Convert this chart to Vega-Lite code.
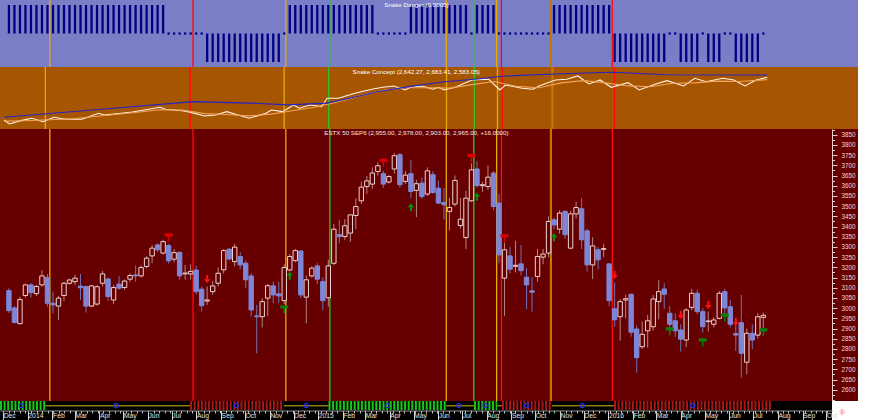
{
  "$schema": "https://vega.github.io/schema/vega-lite/v6.json",
  "padding": 0,
  "spacing": 0,
  "bounds": "flush",
  "background": "#ffffff",
  "config": {
    "view": {"stroke": null},
    "font": "Liberation Sans",
    "axis": {"labelFont": "Liberation Sans", "grid": false},
    "concat": {"spacing": 0}
  },
  "datasets": {
    "candles": [
      {"d":"2013-12-02","o":3086,"h":3100,"l":2976,"c":2988,"s":1},
      {"d":"2013-12-09","o":3001,"h":3010,"l":2925,"c":2930,"s":1},
      {"d":"2013-12-16","o":2924,"h":3055,"l":2920,"c":3042,"s":1},
      {"d":"2013-12-23","o":3062,"h":3120,"l":3052,"c":3114,"s":1},
      {"d":"2013-12-30","o":3114,"h":3122,"l":3052,"c":3076,"s":1},
      {"d":"2014-01-06","o":3071,"h":3115,"l":3060,"c":3106,"s":1},
      {"d":"2014-01-13","o":3114,"h":3186,"l":3105,"c":3158,"s":1},
      {"d":"2014-01-20","o":3150,"h":3167,"l":3008,"c":3024,"s":1},
      {"d":"2014-01-27","o":3024,"h":3081,"l":2975,"c":3016,"s":1},
      {"d":"2014-02-03","o":3010,"h":3060,"l":2942,"c":3049,"s":1},
      {"d":"2014-02-10","o":3062,"h":3130,"l":3035,"c":3122,"s":1},
      {"d":"2014-02-17","o":3122,"h":3145,"l":3115,"c":3138,"s":1},
      {"d":"2014-02-24","o":3130,"h":3163,"l":3114,"c":3147,"s":1},
      {"d":"2014-03-03","o":3108,"h":3167,"l":3041,"c":3100,"s":1},
      {"d":"2014-03-10","o":3106,"h":3110,"l":2978,"c":3010,"s":1},
      {"d":"2014-03-17","o":3010,"h":3115,"l":3005,"c":3109,"s":1},
      {"d":"2014-03-24","o":3020,"h":3112,"l":3012,"c":3105,"s":1},
      {"d":"2014-03-31","o":3122,"h":3183,"l":3106,"c":3168,"s":1},
      {"d":"2014-04-07","o":3143,"h":3150,"l":3035,"c":3057,"s":1},
      {"d":"2014-04-14","o":3040,"h":3114,"l":3019,"c":3101,"s":1},
      {"d":"2014-04-21","o":3118,"h":3158,"l":3090,"c":3098,"s":1},
      {"d":"2014-04-28","o":3101,"h":3140,"l":3090,"c":3133,"s":1},
      {"d":"2014-05-05","o":3142,"h":3170,"l":3128,"c":3160,"s":1},
      {"d":"2014-05-12","o":3163,"h":3209,"l":3130,"c":3158,"s":1},
      {"d":"2014-05-19","o":3158,"h":3210,"l":3150,"c":3199,"s":1},
      {"d":"2014-05-26","o":3204,"h":3255,"l":3195,"c":3245,"s":1},
      {"d":"2014-06-02","o":3256,"h":3310,"l":3220,"c":3294,"s":1},
      {"d":"2014-06-09","o":3310,"h":3318,"l":3275,"c":3286,"s":1},
      {"d":"2014-06-16","o":3270,"h":3335,"l":3262,"c":3326,"s":1},
      {"d":"2014-06-23","o":3307,"h":3315,"l":3219,"c":3232,"s":0},
      {"d":"2014-06-30","o":3240,"h":3290,"l":3225,"c":3272,"s":0},
      {"d":"2014-07-07","o":3274,"h":3275,"l":3140,"c":3158,"s":0},
      {"d":"2014-07-14","o":3168,"h":3212,"l":3140,"c":3172,"s":0},
      {"d":"2014-07-21","o":3168,"h":3215,"l":3140,"c":3180,"s":0},
      {"d":"2014-07-28","o":3187,"h":3209,"l":3068,"c":3081,"s":0},
      {"d":"2014-08-04","o":3093,"h":3106,"l":2983,"c":3012,"s":0},
      {"d":"2014-08-11","o":3035,"h":3106,"l":3016,"c":3040,"s":-1},
      {"d":"2014-08-18","o":3081,"h":3133,"l":3065,"c":3109,"s":-1},
      {"d":"2014-08-25","o":3122,"h":3200,"l":3106,"c":3171,"s":-1},
      {"d":"2014-09-01","o":3188,"h":3290,"l":3170,"c":3282,"s":-1},
      {"d":"2014-09-08","o":3289,"h":3295,"l":3235,"c":3241,"s":-1},
      {"d":"2014-09-15","o":3228,"h":3315,"l":3205,"c":3299,"s":-1},
      {"d":"2014-09-22","o":3253,"h":3275,"l":3190,"c":3212,"s":-1},
      {"d":"2014-09-29","o":3220,"h":3233,"l":3098,"c":3139,"s":-1},
      {"d":"2014-10-06","o":3158,"h":3170,"l":2959,"c":2991,"s":-1},
      {"d":"2014-10-13","o":2962,"h":3016,"l":2779,"c":2958,"s":-1},
      {"d":"2014-10-20","o":2958,"h":3049,"l":2905,"c":3032,"s":-1},
      {"d":"2014-10-27","o":3049,"h":3119,"l":2962,"c":3110,"s":-1},
      {"d":"2014-11-03","o":3109,"h":3130,"l":3024,"c":3065,"s":-1},
      {"d":"2014-11-10","o":3070,"h":3130,"l":3024,"c":3060,"s":-1},
      {"d":"2014-11-17","o":3037,"h":3215,"l":3020,"c":3199,"s":0},
      {"d":"2014-11-24","o":3187,"h":3265,"l":3180,"c":3253,"s":1},
      {"d":"2014-12-01","o":3233,"h":3290,"l":3225,"c":3282,"s":1},
      {"d":"2014-12-08","o":3280,"h":3285,"l":3049,"c":3065,"s":1},
      {"d":"2014-12-15","o":3054,"h":3160,"l":2926,"c":3139,"s":1},
      {"d":"2014-12-22","o":3158,"h":3205,"l":3150,"c":3196,"s":1},
      {"d":"2014-12-29","o":3207,"h":3220,"l":3118,"c":3142,"s":1},
      {"d":"2015-01-05","o":3130,"h":3152,"l":2991,"c":3037,"s":1},
      {"d":"2015-01-12","o":3051,"h":3237,"l":3007,"c":3207,"s":1},
      {"d":"2015-01-19","o":3220,"h":3413,"l":3210,"c":3387,"s":1},
      {"d":"2015-01-26","o":3360,"h":3433,"l":3318,"c":3350,"s":1},
      {"d":"2015-02-02","o":3351,"h":3436,"l":3335,"c":3404,"s":1},
      {"d":"2015-02-09","o":3368,"h":3460,"l":3325,"c":3457,"s":1},
      {"d":"2015-02-16","o":3454,"h":3539,"l":3387,"c":3498,"s":1},
      {"d":"2015-02-23","o":3526,"h":3620,"l":3510,"c":3593,"s":1},
      {"d":"2015-03-02","o":3596,"h":3648,"l":3560,"c":3624,"s":1},
      {"d":"2015-03-09","o":3608,"h":3690,"l":3585,"c":3662,"s":1},
      {"d":"2015-03-16","o":3670,"h":3715,"l":3650,"c":3698,"s":0},
      {"d":"2015-03-23","o":3659,"h":3672,"l":3590,"c":3608,"s":0},
      {"d":"2015-03-30","o":3618,"h":3652,"l":3610,"c":3645,"s":0},
      {"d":"2015-04-06","o":3682,"h":3760,"l":3660,"c":3747,"s":0},
      {"d":"2015-04-13","o":3752,"h":3760,"l":3590,"c":3605,"s":0},
      {"d":"2015-04-20","o":3621,"h":3672,"l":3608,"c":3652,"s":0},
      {"d":"2015-04-27","o":3659,"h":3727,"l":3539,"c":3572,"s":1},
      {"d":"2015-05-04","o":3577,"h":3629,"l":3446,"c":3610,"s":1},
      {"d":"2015-05-11","o":3613,"h":3640,"l":3535,"c":3547,"s":1},
      {"d":"2015-05-18","o":3559,"h":3690,"l":3550,"c":3673,"s":1},
      {"d":"2015-05-25","o":3654,"h":3672,"l":3560,"c":3567,"s":1},
      {"d":"2015-06-01","o":3588,"h":3625,"l":3510,"c":3515,"s":1},
      {"d":"2015-06-08","o":3518,"h":3588,"l":3435,"c":3507,"s":1},
      {"d":"2015-06-15","o":3474,"h":3540,"l":3380,"c":3493,"s":1},
      {"d":"2015-06-22","o":3510,"h":3650,"l":3500,"c":3626,"s":1},
      {"d":"2015-06-29","o":3405,"h":3540,"l":3390,"c":3436,"s":1},
      {"d":"2015-07-06","o":3346,"h":3575,"l":3290,"c":3539,"s":1},
      {"d":"2015-07-13","o":3526,"h":3710,"l":3520,"c":3678,"s":0},
      {"d":"2015-07-20","o":3682,"h":3720,"l":3590,"c":3601,"s":1},
      {"d":"2015-07-27","o":3600,"h":3620,"l":3570,"c":3605,"s":1},
      {"d":"2015-08-03","o":3596,"h":3700,"l":3580,"c":3642,"s":1},
      {"d":"2015-08-10","o":3662,"h":3672,"l":3480,"c":3498,"s":1},
      {"d":"2015-08-17","o":3515,"h":3560,"l":3220,"c":3261,"s":0},
      {"d":"2015-08-24","o":3147,"h":3320,"l":2962,"c":3286,"s":0},
      {"d":"2015-08-31","o":3256,"h":3300,"l":3170,"c":3191,"s":0},
      {"d":"2015-09-07","o":3205,"h":3330,"l":3175,"c":3210,"s":0},
      {"d":"2015-09-14","o":3217,"h":3310,"l":3160,"c":3184,"s":0},
      {"d":"2015-09-21","o":3152,"h":3196,"l":2995,"c":3114,"s":0},
      {"d":"2015-09-28","o":3085,"h":3152,"l":2983,"c":3078,"s":0},
      {"d":"2015-10-05","o":3155,"h":3290,"l":3130,"c":3253,"s":0},
      {"d":"2015-10-12","o":3250,"h":3290,"l":3215,"c":3265,"s":0},
      {"d":"2015-10-19","o":3270,"h":3450,"l":3250,"c":3425,"s":0},
      {"d":"2015-10-26","o":3433,"h":3445,"l":3385,"c":3408,"s":1},
      {"d":"2015-11-02","o":3387,"h":3480,"l":3365,"c":3466,"s":1},
      {"d":"2015-11-09","o":3474,"h":3480,"l":3340,"c":3360,"s":1},
      {"d":"2015-11-16","o":3294,"h":3477,"l":3290,"c":3462,"s":1},
      {"d":"2015-11-23","o":3462,"h":3522,"l":3440,"c":3493,"s":1},
      {"d":"2015-11-30","o":3487,"h":3540,"l":3290,"c":3335,"s":1},
      {"d":"2015-12-07","o":3379,"h":3390,"l":3180,"c":3212,"s":1},
      {"d":"2015-12-14","o":3212,"h":3348,"l":3142,"c":3305,"s":1},
      {"d":"2015-12-21","o":3286,"h":3300,"l":3190,"c":3237,"s":1},
      {"d":"2015-12-28","o":3288,"h":3315,"l":3250,"c":3292,"s":1},
      {"d":"2016-01-04","o":3217,"h":3220,"l":3010,"c":3037,"s":1},
      {"d":"2016-01-11","o":2997,"h":3125,"l":2909,"c":2943,"s":-1},
      {"d":"2016-01-18","o":2958,"h":3045,"l":2840,"c":3032,"s":-1},
      {"d":"2016-01-25","o":3040,"h":3065,"l":2950,"c":3046,"s":-1},
      {"d":"2016-02-01","o":3068,"h":3070,"l":2860,"c":2882,"s":-1},
      {"d":"2016-02-08","o":2898,"h":2915,"l":2684,"c":2757,"s":-1},
      {"d":"2016-02-15","o":2811,"h":2935,"l":2800,"c":2872,"s":-1},
      {"d":"2016-02-22","o":2889,"h":2967,"l":2806,"c":2938,"s":-1},
      {"d":"2016-02-29","o":2909,"h":3065,"l":2890,"c":3045,"s":-1},
      {"d":"2016-03-07","o":3032,"h":3138,"l":2945,"c":3081,"s":-1},
      {"d":"2016-03-14","o":3094,"h":3122,"l":2996,"c":3068,"s":-1},
      {"d":"2016-03-21","o":2975,"h":3010,"l":2880,"c":2921,"s":0},
      {"d":"2016-03-28","o":2938,"h":2975,"l":2860,"c":2889,"s":0},
      {"d":"2016-04-04","o":2893,"h":2920,"l":2787,"c":2848,"s":-1},
      {"d":"2016-04-11","o":2844,"h":3000,"l":2810,"c":2991,"s":-1},
      {"d":"2016-04-18","o":3004,"h":3095,"l":2990,"c":3073,"s":-1},
      {"d":"2016-04-25","o":3073,"h":3090,"l":2970,"c":2983,"s":-1},
      {"d":"2016-05-02","o":2983,"h":3000,"l":2880,"c":2909,"s":0},
      {"d":"2016-05-09","o":2935,"h":2983,"l":2885,"c":2937,"s":-1},
      {"d":"2016-05-16","o":2921,"h":2955,"l":2905,"c":2942,"s":-1},
      {"d":"2016-05-23","o":2950,"h":3085,"l":2945,"c":3073,"s":-1},
      {"d":"2016-05-30","o":3081,"h":3095,"l":2965,"c":3001,"s":0},
      {"d":"2016-06-06","o":3007,"h":3040,"l":2905,"c":2921,"s":0},
      {"d":"2016-06-13","o":2875,"h":2918,"l":2790,"c":2868,"s":-1},
      {"d":"2016-06-20","o":2929,"h":3065,"l":2659,"c":2779,"s":-1},
      {"d":"2016-06-27","o":2735,"h":2900,"l":2676,"c":2877,"s":-1},
      {"d":"2016-07-04","o":2877,"h":2920,"l":2800,"c":2844,"s":-1},
      {"d":"2016-07-11","o":2868,"h":2975,"l":2850,"c":2958,"s":-1},
      {"d":"2016-07-18","o":2955,"h":2978,"l":2903,"c":2965,"s":0}
    ],
    "snake": [
      {"d":"2013-12-02","sr":"white","v":1666},{"d":"2013-12-09","sr":"white","v":1575},{"d":"2013-12-23","sr":"white","v":1651},
      {"d":"2014-01-06","sr":"white","v":1705},{"d":"2014-01-20","sr":"white","v":1628},{"d":"2014-02-03","sr":"white","v":1727},
      {"d":"2014-02-17","sr":"white","v":1682},{"d":"2014-03-10","sr":"white","v":1682},{"d":"2014-03-31","sr":"white","v":1818},
      {"d":"2014-04-07","sr":"white","v":1780},{"d":"2014-04-28","sr":"white","v":1818},{"d":"2014-05-12","sr":"white","v":1848},
      {"d":"2014-06-02","sr":"white","v":1909},{"d":"2014-06-16","sr":"white","v":1955},{"d":"2014-06-23","sr":"white","v":1909},
      {"d":"2014-07-14","sr":"white","v":1877},{"d":"2014-07-21","sr":"white","v":1855},{"d":"2014-08-11","sr":"white","v":1757},
      {"d":"2014-08-25","sr":"white","v":1780},{"d":"2014-09-08","sr":"white","v":1855},{"d":"2014-09-22","sr":"white","v":1780},
      {"d":"2014-10-06","sr":"white","v":1705},{"d":"2014-10-27","sr":"white","v":1818},{"d":"2014-11-03","sr":"white","v":1893},
      {"d":"2014-11-17","sr":"white","v":1855},{"d":"2014-12-01","sr":"white","v":2007},{"d":"2014-12-08","sr":"white","v":1932},
      {"d":"2014-12-22","sr":"white","v":2007},{"d":"2015-01-05","sr":"white","v":1969},{"d":"2015-01-12","sr":"white","v":2159},
      {"d":"2015-01-26","sr":"white","v":2159},{"d":"2015-02-16","sr":"white","v":2273},{"d":"2015-03-09","sr":"white","v":2364},
      {"d":"2015-03-23","sr":"white","v":2409},{"d":"2015-04-06","sr":"white","v":2439},{"d":"2015-04-20","sr":"white","v":2348},
      {"d":"2015-04-27","sr":"white","v":2409},{"d":"2015-05-11","sr":"white","v":2439},{"d":"2015-05-25","sr":"white","v":2364},
      {"d":"2015-06-01","sr":"white","v":2409},{"d":"2015-06-08","sr":"white","v":2348},{"d":"2015-06-22","sr":"white","v":2409},
      {"d":"2015-07-13","sr":"white","v":2575},{"d":"2015-08-03","sr":"white","v":2591},{"d":"2015-08-17","sr":"white","v":2348},
      {"d":"2015-08-24","sr":"white","v":2461},{"d":"2015-09-14","sr":"white","v":2386},{"d":"2015-09-28","sr":"white","v":2364},
      {"d":"2015-10-05","sr":"white","v":2439},{"d":"2015-10-26","sr":"white","v":2575},{"d":"2015-11-09","sr":"white","v":2591},
      {"d":"2015-11-23","sr":"white","v":2666},{"d":"2015-12-07","sr":"white","v":2484},{"d":"2015-12-21","sr":"white","v":2575},
      {"d":"2016-01-04","sr":"white","v":2409},{"d":"2016-01-25","sr":"white","v":2514},{"d":"2016-02-08","sr":"white","v":2348},
      {"d":"2016-02-29","sr":"white","v":2484},{"d":"2016-03-14","sr":"white","v":2559},{"d":"2016-04-04","sr":"white","v":2439},
      {"d":"2016-04-18","sr":"white","v":2614},{"d":"2016-05-02","sr":"white","v":2536},{"d":"2016-05-23","sr":"white","v":2614},
      {"d":"2016-06-06","sr":"white","v":2575},{"d":"2016-06-20","sr":"white","v":2439},{"d":"2016-07-04","sr":"white","v":2575},
      {"d":"2016-07-18","sr":"white","v":2636},
      {"d":"2013-12-02","sr":"orange","v":1640},{"d":"2013-12-30","sr":"orange","v":1650},{"d":"2014-01-27","sr":"orange","v":1670},
      {"d":"2014-02-24","sr":"orange","v":1690},{"d":"2014-03-24","sr":"orange","v":1740},{"d":"2014-04-21","sr":"orange","v":1790},
      {"d":"2014-05-19","sr":"orange","v":1840},{"d":"2014-06-16","sr":"orange","v":1900},{"d":"2014-07-14","sr":"orange","v":1890},
      {"d":"2014-08-11","sr":"orange","v":1810},{"d":"2014-09-08","sr":"orange","v":1790},{"d":"2014-10-06","sr":"orange","v":1760},
      {"d":"2014-11-03","sr":"orange","v":1800},{"d":"2014-12-01","sr":"orange","v":1880},{"d":"2014-12-29","sr":"orange","v":1960},
      {"d":"2015-01-26","sr":"orange","v":2080},{"d":"2015-02-23","sr":"orange","v":2220},{"d":"2015-03-23","sr":"orange","v":2340},
      {"d":"2015-04-20","sr":"orange","v":2400},{"d":"2015-05-18","sr":"orange","v":2400},{"d":"2015-06-15","sr":"orange","v":2390},
      {"d":"2015-07-13","sr":"orange","v":2470},{"d":"2015-08-10","sr":"orange","v":2540},{"d":"2015-09-07","sr":"orange","v":2430},
      {"d":"2015-10-05","sr":"orange","v":2400},{"d":"2015-11-02","sr":"orange","v":2510},{"d":"2015-11-30","sr":"orange","v":2560},
      {"d":"2015-12-28","sr":"orange","v":2510},{"d":"2016-01-25","sr":"orange","v":2440},{"d":"2016-02-22","sr":"orange","v":2420},
      {"d":"2016-03-21","sr":"orange","v":2500},{"d":"2016-04-18","sr":"orange","v":2510},{"d":"2016-05-16","sr":"orange","v":2550},
      {"d":"2016-06-13","sr":"orange","v":2540},{"d":"2016-07-18","sr":"orange","v":2583},
      {"d":"2013-12-02","sr":"blue","v":1727},{"d":"2014-03-31","sr":"blue","v":1905},{"d":"2014-07-28","sr":"blue","v":2082},
      {"d":"2014-10-06","sr":"blue","v":2050},{"d":"2014-11-24","sr":"blue","v":2010},{"d":"2015-01-12","sr":"blue","v":2050},
      {"d":"2015-02-16","sr":"blue","v":2190},{"d":"2015-03-16","sr":"blue","v":2309},{"d":"2015-04-27","sr":"blue","v":2430},
      {"d":"2015-06-08","sr":"blue","v":2536},{"d":"2015-07-20","sr":"blue","v":2598},{"d":"2015-08-24","sr":"blue","v":2666},
      {"d":"2015-10-26","sr":"blue","v":2711},{"d":"2016-01-04","sr":"blue","v":2750},{"d":"2016-03-14","sr":"blue","v":2695},
      {"d":"2016-07-18","sr":"blue","v":2689}
    ],
    "vlines": [
      {"d":"2014-01-23","k":"gold"},{"d":"2014-07-24","k":"red"},{"d":"2014-11-19","k":"gold"},
      {"d":"2015-01-14","k":"green"},{"d":"2015-06-11","k":"gold"},{"d":"2015-07-16","k":"green"},
      {"d":"2015-08-14","k":"gold"},{"d":"2015-08-20","k":"red"},{"d":"2015-10-22","k":"orange"},
      {"d":"2016-01-08","k":"red"}
    ],
    "signals": [
      {"d":"2014-06-23","v":3347,"t":"sellT"},{"d":"2014-08-11","v":3143,"t":"down"},
      {"d":"2014-11-17","v":2994,"t":"buyT"},{"d":"2014-11-24","v":3159,"t":"up"},
      {"d":"2015-03-23","v":3713,"t":"sellT"},{"d":"2015-04-27","v":3494,"t":"up"},
      {"d":"2015-07-13","v":3737,"t":"sellT"},{"d":"2015-07-20","v":3546,"t":"up"},
      {"d":"2015-08-24","v":3343,"t":"sellT"},{"d":"2015-10-26","v":3347,"t":"up"},
      {"d":"2016-01-11","v":3163,"t":"down"},{"d":"2016-03-21","v":2887,"t":"buyT"},
      {"d":"2016-04-04","v":2967,"t":"down"},{"d":"2016-05-02","v":2833,"t":"buyT"},
      {"d":"2016-05-09","v":3016,"t":"down"},{"d":"2016-05-30","v":2954,"t":"buyT"},
      {"d":"2016-06-13","v":2933,"t":"down"},{"d":"2016-07-18","v":2882,"t":"buyT"}
    ],
    "segs": [
      {"d":"2013-11-27","e":"2014-01-23","k":"bull"},
      {"d":"2014-01-23","e":"2014-07-24","k":"flat"},
      {"d":"2014-07-24","e":"2014-11-19","k":"bear"},
      {"d":"2014-11-19","e":"2015-01-14","k":"flat"},
      {"d":"2015-01-14","e":"2015-06-11","k":"bull"},
      {"d":"2015-06-11","e":"2015-07-16","k":"flat"},
      {"d":"2015-07-16","e":"2015-08-14","k":"bull"},
      {"d":"2015-08-14","e":"2015-08-20","k":"flat"},
      {"d":"2015-08-20","e":"2015-10-22","k":"bear"},
      {"d":"2015-10-22","e":"2016-01-08","k":"flat"},
      {"d":"2016-01-08","e":"2016-07-25","k":"bear"}
    ],
    "circles": [
      {"d":"2013-12-24"},{"d":"2014-04-22"},{"d":"2014-09-20"},{"d":"2014-12-17"},{"d":"2015-03-29"},
      {"d":"2015-06-27"},{"d":"2015-07-30"},{"d":"2015-09-20"},{"d":"2015-11-29"},{"d":"2016-04-16"}
    ],
    "titles": [
      {"p":"top","t":"Snake Danger (0.0000)"},
      {"p":"mid","t":"Snake Concept (2,642.27, 2,683.41, 2,583.05)"},
      {"p":"bot","t":"ESTX 50 SEP6 (2,955.00, 2,978.00, 2,903.00, 2,965.00, +16.0000)"}
    ]
  },
  "vconcat": [
    {
      "width": 858, "height": 67,
      "view": {"fill": "#7a7ec6", "stroke": null},
      "layer": [
        {"data": {"name": "vlines"}, "transform": [{"filter": "datum.k != 'orange'"}], "mark": {"type": "rule", "strokeWidth": 1.3, "clip": true},
         "encoding": {
           "x": {"field": "d", "type": "temporal", "scale": {"type": "utc", "domain": [{"year": 2013, "month": 11, "date": 27, "utc": true}, {"year": 2016, "month": 11, "date": 9, "utc": true}]}, "axis": null},
           "color": {"field": "k", "type": "nominal", "scale": {"domain": ["gold", "red", "green"], "range": ["#e8aa00", "#ff0a0a", "#2ec42e"]}, "legend": null}}},
        {"data": {"name": "vlines"}, "transform": [{"filter": "datum.k == 'orange'"}], "mark": {"type": "rule", "strokeWidth": 2.2, "color": "#c27800", "clip": true},
         "encoding": {"x": {"field": "d", "type": "temporal", "scale": {"type": "utc", "domain": [{"year": 2013, "month": 11, "date": 27, "utc": true}, {"year": 2016, "month": 11, "date": 9, "utc": true}]}, "axis": null}}},
        {"data": {"name": "candles"}, "transform": [{"filter": "datum.s != 0"}], "mark": {"type": "bar", "color": "#000080"},
         "encoding": {
           "x": {"field": "d", "type": "temporal", "scale": {"type": "utc", "domain": [{"year": 2013, "month": 11, "date": 27, "utc": true}, {"year": 2016, "month": 11, "date": 9, "utc": true}]}, "axis": null},
           "y": {"field": "s", "type": "quantitative", "scale": {"domain": [-1.175, 1.175]},
                 "axis": {"orient": "right", "offset": -26, "values": [-1, -0.5, 0, 0.5, 1], "labelExpr": "datum.value < 0 ? '-' + format(-datum.value, '.1f') : format(datum.value, '.1f')", "tickSize": 5, "labelPadding": 4, "labelFontSize": 6.3, "labelColor": "#ffffff", "domainColor": "#dcdcf0", "tickColor": "#dcdcf0", "labelOverlap": false, "title": null, "grid": false}},
           "y2": {"datum": 0},
           "size": {"value": 2.3}
         }},
        {"data": {"name": "candles"}, "transform": [{"filter": "datum.s == 0"}], "mark": {"type": "square", "color": "#000080", "size": 5, "opacity": 1},
         "encoding": {
           "x": {"field": "d", "type": "temporal", "scale": {"type": "utc", "domain": [{"year": 2013, "month": 11, "date": 27, "utc": true}, {"year": 2016, "month": 11, "date": 9, "utc": true}]}, "axis": null},
           "y": {"datum": 0, "type": "quantitative", "scale": {"domain": [-1.175, 1.175]}, "axis": null}}},
        {"data": {"name": "titles"}, "transform": [{"filter": "datum.p == 'top'"}], "mark": {"type": "text", "color": "#ffffff", "fontSize": 6.2, "align": "center", "baseline": "middle"},
         "encoding": {
           "x": {"datum": {"year": 2015, "month": 5, "date": 4, "utc": true}, "type": "temporal", "scale": {"type": "utc", "domain": [{"year": 2013, "month": 11, "date": 27, "utc": true}, {"year": 2016, "month": 11, "date": 9, "utc": true}]}, "axis": null},
           "y": {"datum": 1.0, "type": "quantitative", "scale": {"domain": [-1.175, 1.175]}, "axis": null},
           "text": {"field": "t"}
         }}
      ]
    },
    {
      "width": 858, "height": 62,
      "view": {"fill": "#a65500", "stroke": null},
      "resolve": {"scale": {"color": "independent"}},
      "layer": [
        {"data": {"name": "vlines"}, "transform": [{"filter": "datum.k != 'orange'"}], "mark": {"type": "rule", "strokeWidth": 1.3, "clip": true},
         "encoding": {
           "x": {"field": "d", "type": "temporal", "scale": {"type": "utc", "domain": [{"year": 2013, "month": 11, "date": 27, "utc": true}, {"year": 2016, "month": 11, "date": 9, "utc": true}]}, "axis": null},
           "color": {"field": "k", "type": "nominal", "scale": {"domain": ["gold", "red", "green"], "range": ["#e8aa00", "#ff0a0a", "#2ec42e"]}, "legend": null}}},
        {"data": {"name": "vlines"}, "transform": [{"filter": "datum.k == 'orange'"}], "mark": {"type": "rule", "strokeWidth": 2.2, "color": "#c27800", "clip": true},
         "encoding": {"x": {"field": "d", "type": "temporal", "scale": {"type": "utc", "domain": [{"year": 2013, "month": 11, "date": 27, "utc": true}, {"year": 2016, "month": 11, "date": 9, "utc": true}]}, "axis": null}}},
        {"data": {"name": "snake"}, "mark": {"type": "line", "strokeWidth": 1.1},
         "encoding": {
           "x": {"field": "d", "type": "temporal", "scale": {"type": "utc", "domain": [{"year": 2013, "month": 11, "date": 27, "utc": true}, {"year": 2016, "month": 11, "date": 9, "utc": true}]}, "axis": null},
           "y": {"field": "v", "type": "quantitative", "scale": {"domain": [1461, 2870]},
                 "axis": {"orient": "right", "offset": -26, "values": [2000, 2500], "format": "d", "tickSize": 5, "labelPadding": 4, "labelFontSize": 6.3, "labelColor": "#fff2e6", "domainColor": "#f0dcc8", "tickColor": "#f0dcc8", "labelOverlap": false, "title": null, "grid": false}},
           "color": {"field": "sr", "type": "nominal", "scale": {"domain": ["blue", "orange", "white"], "range": ["#2424c8", "#f0a45c", "#fff4e6"]}, "legend": null}
         }},
        {"data": {"name": "titles"}, "transform": [{"filter": "datum.p == 'mid'"}], "mark": {"type": "text", "color": "#ffffff", "fontSize": 6.2, "align": "center", "baseline": "middle"},
         "encoding": {
           "x": {"datum": {"year": 2015, "month": 5, "date": 4, "utc": true}, "type": "temporal", "scale": {"type": "utc", "domain": [{"year": 2013, "month": 11, "date": 27, "utc": true}, {"year": 2016, "month": 11, "date": 9, "utc": true}]}, "axis": null},
           "y": {"datum": 2756, "type": "quantitative", "scale": {"domain": [1461, 2870]}, "axis": null},
           "text": {"field": "t"}
         }}
      ]
    },
    {
      "width": 858, "height": 272,
      "view": {"fill": "#660000", "stroke": null},
      "resolve": {"scale": {"color": "independent"}, "axis": {"y": "independent"}},
      "layer": [
        {"data": {"name": "vlines"}, "transform": [{"filter": "datum.k != 'orange'"}], "mark": {"type": "rule", "strokeWidth": 1.3, "clip": true},
         "encoding": {
           "x": {"field": "d", "type": "temporal", "scale": {"type": "utc", "domain": [{"year": 2013, "month": 11, "date": 27, "utc": true}, {"year": 2016, "month": 11, "date": 9, "utc": true}]}, "axis": null},
           "color": {"field": "k", "type": "nominal", "scale": {"domain": ["gold", "red", "green"], "range": ["#e8aa00", "#ff0a0a", "#2ec42e"]}, "legend": null}}},
        {"data": {"name": "vlines"}, "transform": [{"filter": "datum.k == 'orange'"}], "mark": {"type": "rule", "strokeWidth": 2.2, "color": "#c27800", "clip": true},
         "encoding": {"x": {"field": "d", "type": "temporal", "scale": {"type": "utc", "domain": [{"year": 2013, "month": 11, "date": 27, "utc": true}, {"year": 2016, "month": 11, "date": 9, "utc": true}]}, "axis": null}}},
        {"data": {"name": "candles"}, "mark": {"type": "rule", "strokeWidth": 1},
         "encoding": {
           "x": {"field": "d", "type": "temporal", "scale": {"type": "utc", "domain": [{"year": 2013, "month": 11, "date": 27, "utc": true}, {"year": 2016, "month": 11, "date": 9, "utc": true}]}, "axis": null},
           "y": {"field": "l", "type": "quantitative", "scale": {"domain": [2545, 3878]},
                 "axis": {"orient": "right", "offset": -26, "values": [2600,2650,2700,2750,2800,2850,2900,2950,3000,3050,3100,3150,3200,3250,3300,3350,3400,3450,3500,3550,3600,3650,3700,3750,3800,3850], "format": "d", "tickSize": 5, "labelPadding": 4, "labelFontSize": 6.3, "labelColor": "#f0d8d8", "domainColor": "#e8d0d0", "tickColor": "#e8d0d0", "labelOverlap": false, "title": null, "grid": false}},
           "y2": {"field": "h"},
           "color": {"condition": {"test": "datum.c >= datum.o", "value": "#b48484"}, "value": "#7070b4"}
         }},
        {"data": {"name": "candles"}, "mark": {"type": "bar", "strokeWidth": 1},
         "encoding": {
           "x": {"field": "d", "type": "temporal", "scale": {"type": "utc", "domain": [{"year": 2013, "month": 11, "date": 27, "utc": true}, {"year": 2016, "month": 11, "date": 9, "utc": true}]}, "axis": null},
           "y": {"field": "o", "type": "quantitative", "scale": {"domain": [2545, 3878]}, "axis": null},
           "y2": {"field": "c"},
           "size": {"value": 4.4},
           "fill": {"condition": {"test": "datum.c >= datum.o", "value": "#660000"}, "value": "#7f86d6"},
           "stroke": {"condition": {"test": "datum.c >= datum.o", "value": "#ecd2d2"}, "value": "#7f86d6"}
         }},
        {"data": {"name": "signals"}, "mark": {"type": "point", "filled": true, "size": 64, "opacity": 1},
         "encoding": {
           "x": {"field": "d", "type": "temporal", "scale": {"type": "utc", "domain": [{"year": 2013, "month": 11, "date": 27, "utc": true}, {"year": 2016, "month": 11, "date": 9, "utc": true}]}, "axis": null},
           "y": {"field": "v", "type": "quantitative", "scale": {"domain": [2545, 3878]}, "axis": null},
           "shape": {"field": "t", "type": "nominal", "scale": {"domain": ["sellT", "buyT", "down", "up"], "range": ["M-1,-1L1,-1L1,-0.2L0.18,-0.2L0.18,1L-0.18,1L-0.18,-0.2L-1,-0.2Z", "M-1,-1L1,-1L1,-0.2L0.18,-0.2L0.18,1L-0.18,1L-0.18,-0.2L-1,-0.2Z", "M-0.25,-1L0.25,-1L0.25,0.05L0.8,0.05L0,1L-0.8,0.05L-0.25,0.05Z", "M-0.25,1L0.25,1L0.25,-0.05L0.8,-0.05L0,-1L-0.8,-0.05L-0.25,-0.05Z"]}, "legend": null},
           "color": {"field": "t", "type": "nominal", "scale": {"domain": ["sellT", "buyT", "down", "up"], "range": ["#e00000", "#0a800a", "#ff1010", "#0a900a"]}, "legend": null}
         }},
        {"data": {"name": "titles"}, "transform": [{"filter": "datum.p == 'bot'"}], "mark": {"type": "text", "color": "#f4e4e4", "fontSize": 6.2, "align": "center", "baseline": "middle"},
         "encoding": {
           "x": {"datum": {"year": 2015, "month": 5, "date": 4, "utc": true}, "type": "temporal", "scale": {"type": "utc", "domain": [{"year": 2013, "month": 11, "date": 27, "utc": true}, {"year": 2016, "month": 11, "date": 9, "utc": true}]}, "axis": null},
           "y": {"datum": 3857, "type": "quantitative", "scale": {"domain": [2545, 3878]}, "axis": null},
           "text": {"field": "t"}
         }},
        {"data": {"name": "candles"}, "mark": {"type": "point", "opacity": 0, "size": 1},
         "encoding": {
           "x": {"field": "d", "type": "temporal", "scale": {"type": "utc", "domain": [{"year": 2013, "month": 11, "date": 27, "utc": true}, {"year": 2016, "month": 11, "date": 9, "utc": true}]}, "axis": null},
           "y": {"field": "c", "type": "quantitative", "scale": {"domain": [2545, 3878]},
                 "axis": {"orient": "right", "offset": -26, "values": [2550,2575,2600,2625,2650,2675,2700,2725,2750,2775,2800,2825,2850,2875,2900,2925,2950,2975,3000,3025,3050,3075,3100,3125,3150,3175,3200,3225,3250,3275,3300,3325,3350,3375,3400,3425,3450,3475,3500,3525,3550,3575,3600,3625,3650,3675,3700,3725,3750,3775,3800,3825,3850,3875], "labels": false, "domain": false, "tickSize": 2.5, "tickColor": "#e8d0d0", "title": null, "grid": false}}
         }}
      ]
    },
    {
      "width": 832, "height": 19,
      "view": {"fill": "#000000", "stroke": null},
      "resolve": {"axis": {"x": "independent"}},
      "layer": [
        {"data": {"name": "segs"}, "transform": [{"filter": "datum.k == 'bull'"}], "mark": {"type": "rule", "strokeWidth": 9, "strokeDash": [2, 1.6], "strokeCap": "butt", "clip": true, "color": "#14c814"},
         "encoding": {
           "x": {"field": "d", "type": "temporal", "scale": {"type": "utc", "domain": [{"year": 2013, "month": 11, "date": 27, "utc": true}, {"year": 2016, "month": 10, "date": 8, "utc": true}]},
                 "axis": {"orient": "bottom", "offset": -9.5, "tickCount": {"interval": "month", "step": 1}, "labelExpr": "utcFormat(datum.value, '%m') == '01' ? utcFormat(datum.value, '%Y') : utcFormat(datum.value, '%b')", "tickSize": 9.5, "labelPadding": -7.5, "labelAlign": "left", "labelBaseline": "top", "labelDx": 2, "labelFontSize": 6.8, "labelColor": "#e0e0e0", "tickColor": "#d0d0d0", "domainColor": "#909090", "labelBound": true, "labelOverlap": false, "labelFlush": false, "grid": false, "title": null}},
           "x2": {"field": "e"},
           "y": {"datum": 14.5, "type": "quantitative", "scale": {"domain": [0, 19]}, "axis": null}
         }},
        {"data": {"name": "segs"}, "transform": [{"filter": "datum.k == 'bear'"}], "mark": {"type": "rule", "strokeWidth": 9, "strokeDash": [2, 1.6], "strokeCap": "butt", "clip": true, "color": "#b01414"},
         "encoding": {
           "x": {"field": "d", "type": "temporal", "scale": {"type": "utc", "domain": [{"year": 2013, "month": 11, "date": 27, "utc": true}, {"year": 2016, "month": 10, "date": 8, "utc": true}]}, "axis": null},
           "x2": {"field": "e"},
           "y": {"datum": 14.5, "type": "quantitative", "scale": {"domain": [0, 19]}, "axis": null}
         }},
        {"data": {"name": "segs"}, "transform": [{"filter": "datum.k == 'flat'"}], "mark": {"type": "rule", "strokeWidth": 1, "color": "#c8c000", "clip": true},
         "encoding": {
           "x": {"field": "d", "type": "temporal", "scale": {"type": "utc", "domain": [{"year": 2013, "month": 11, "date": 27, "utc": true}, {"year": 2016, "month": 10, "date": 8, "utc": true}]}, "axis": null},
           "x2": {"field": "e"},
           "y": {"datum": 14.2, "type": "quantitative", "scale": {"domain": [0, 19]}, "axis": null}
         }},
        {"data": {"name": "circles"}, "mark": {"type": "point", "filled": false, "size": 18, "strokeWidth": 1.2, "color": "#2a2ad8", "opacity": 1},
         "encoding": {
           "x": {"field": "d", "type": "temporal", "scale": {"type": "utc", "domain": [{"year": 2013, "month": 11, "date": 27, "utc": true}, {"year": 2016, "month": 10, "date": 8, "utc": true}]}, "axis": null},
           "y": {"datum": 14.5, "type": "quantitative", "scale": {"domain": [0, 19]}, "axis": null}
         }},
        {"data": {"name": "circles"}, "mark": {"type": "rule", "opacity": 0, "clip": true},
         "encoding": {
           "x": {"field": "d", "type": "temporal", "scale": {"type": "utc", "domain": [{"year": 2013, "month": 11, "date": 27, "utc": true}, {"year": 2016, "month": 10, "date": 8, "utc": true}]},
                 "axis": {"orient": "bottom", "offset": -9.5, "tickCount": {"interval": "week", "step": 1}, "labels": false, "domain": false, "tickSize": 2.5, "tickColor": "#c0c0c0", "grid": false, "title": null}}
         }},
        {"data": {"values": [{"t": "®"}]}, "mark": {"type": "text", "color": "#ff5050", "fontSize": 7, "align": "center", "baseline": "middle"},
         "encoding": {
           "x": {"datum": {"year": 2016, "month": 10, "date": 21, "utc": true}, "type": "temporal", "scale": {"type": "utc", "domain": [{"year": 2013, "month": 11, "date": 27, "utc": true}, {"year": 2016, "month": 10, "date": 8, "utc": true}]}, "axis": null},
           "y": {"datum": 7, "type": "quantitative", "scale": {"domain": [0, 19]}, "axis": null},
           "text": {"field": "t"}
         }}
      ]
    }
  ]
}
